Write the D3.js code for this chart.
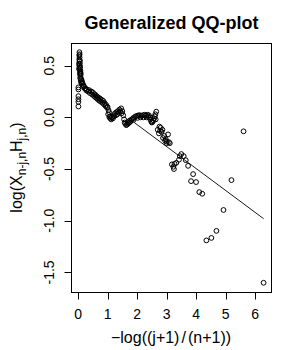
<!DOCTYPE html>
<html>
<head>
<meta charset="utf-8">
<script src="https://cdn.jsdelivr.net/npm/d3@7"></script>
<style>
body { margin: 0; background: #fff; }
svg { display: block; }
</style>
</head>
<body>
<svg id="chart"></svg>
<script>
// values
const qqX = [
  // column near 0
  0.045, 0.04, 0.05, 0.04, 0.05, 0.06, 0.04, 0.06, 0.05, 0.07, 0.06, 0.08, 0.07, 0.09, 0.10, 0.12,
  0.03, 0.03, 0.08, 0.09, 0.11, 0.13, 0.05, 0.06, 0.07, 0.08,
  // lone points at the left
  0.01, 0.01, 0.01, 0.01, 0.01, 0.01,
  // bend 0.15 - 1
  0.15, 0.18, 0.20, 0.25, 0.30, 0.375, 0.45, 0.50, 0.55, 0.60, 0.65, 0.70, 0.75, 0.80, 0.85, 0.90, 0.95,
  0.17, 0.22, 0.28, 0.34, 0.40, 0.48, 0.53, 0.58, 0.63, 0.68, 0.73, 0.78, 0.83, 0.88, 0.93, 0.98,
  // wiggle 1 - 1.6
  1.00, 1.03, 1.05, 1.08, 1.10, 1.15, 1.20, 1.25, 1.30, 1.35, 1.40, 1.46, 1.50, 1.53, 1.56, 1.58,
  1.02, 1.06, 1.12, 1.18, 1.22, 1.28, 1.33, 1.38, 1.43, 1.48,
  // flat part 1.6 - 2.45
  1.60, 1.63, 1.66, 1.70, 1.74, 1.78, 1.82, 1.86, 1.90, 1.95, 2.00, 2.05, 2.10, 2.15, 2.20, 2.25,
  2.30, 2.35, 2.40, 2.44, 1.68, 1.75, 1.88, 2.02, 2.12, 2.22, 2.32, 2.38,
  // rise at 2.5 - 2.65
  2.48, 2.50, 2.52, 2.55, 2.58, 2.60, 2.62, 2.65, 2.63, 2.45,
  // cluster 2.7 - 3.1
  2.76, 2.70, 2.86, 2.74, 3.05, 2.88, 2.95, 3.01, 3.11, 3.00, 2.80, 2.83, 2.92, 2.97, 3.08, 2.78,
  // tail
  3.18, 3.23, 3.25, 3.27, 3.33, 3.42, 3.45, 3.50, 3.58, 3.65, 3.73, 3.90, 3.83, 4.00, 4.11, 4.21,
  4.35, 4.52, 4.69, 4.93, 5.20, 5.61, 6.29
];
const qqY = [
  0.63, 0.60, 0.58, 0.56, 0.54, 0.52, 0.50, 0.48, 0.46, 0.44, 0.42, 0.40, 0.38, 0.36, 0.34, 0.33,
  0.47, 0.52, 0.45, 0.42, 0.37, 0.35, 0.61, 0.55, 0.49, 0.43,
  0.29, 0.27, 0.205, 0.175, 0.15, 0.105,
  0.33, 0.31, 0.30, 0.28, 0.27, 0.263, 0.25, 0.24, 0.225, 0.215, 0.20, 0.19, 0.18, 0.17, 0.16, 0.14, 0.12,
  0.30, 0.28, 0.26, 0.25, 0.235, 0.22, 0.21, 0.195, 0.185, 0.17, 0.16, 0.15, 0.14, 0.125, 0.11, 0.095,
  0.10, 0.07, 0.05, 0.01, -0.01, 0.00, 0.02, 0.04, 0.05, 0.06, 0.075, 0.087, 0.06, 0.02, -0.02, -0.05,
  0.03, 0.00, -0.02, -0.01, 0.01, 0.02, 0.03, 0.045, 0.06, 0.04,
  -0.06, -0.075, -0.07, -0.06, -0.05, -0.04, -0.02, -0.01, 0.00, 0.01, 0.015, 0.02, 0.02, 0.015, 0.02, 0.025,
  0.02, 0.025, 0.02, 0.00, -0.045, -0.03, -0.025, -0.005, 0.00, 0.00, 0.00, 0.005,
  -0.04, -0.05, -0.045, -0.03, -0.01, 0.01, 0.03, 0.055, -0.02, -0.02,
  -0.09, -0.12, -0.12, -0.155, -0.165, -0.20, -0.225, -0.235, -0.25, -0.25, -0.10, -0.14, -0.18, -0.21, -0.24, -0.13,
  -0.455, -0.478, -0.50, -0.45, -0.44, -0.41, -0.375, -0.355, -0.375, -0.414, -0.469, -0.549, -0.617, -0.626, -0.723, -0.739,
  -1.19, -1.166, -1.098, -0.896, -0.607, -0.135, -1.60
];
const lineX = [1.9, 6.29];
const lineY = [-0.049, -0.98];
const xTicks = [0, 1, 2, 3, 4, 5, 6];
const yTicks = [0.5, 0.0, -0.5, -1.0, -1.5];
const yTickLabels = ["0.5", "0.0", "-0.5", "-1.0", "-1.5"];

const width = 300, height = 350;
const plotL = 71, plotR = 271, plotT = 43, plotB = 292;
const font = "'Liberation Sans', Arial, Helvetica, sans-serif";

const svg = d3.select("#chart").attr("width", width).attr("height", height);

// R style: data range padded by 4%
function padded(ext) {
  const d = (ext[1] - ext[0]) * 0.04;
  return [ext[0] - d, ext[1] + d];
}
const x = d3.scaleLinear().domain(padded(d3.extent(qqX))).range([plotL, plotR]);
const y = d3.scaleLinear().domain(padded(d3.extent(qqY))).range([plotB, plotT]);

// points
const pts = qqX.map((v, i) => [v, qqY[i]]);
svg.append("g").selectAll("circle").data(pts).join("circle")
  .attr("cx", d => x(d[0]))
  .attr("cy", d => y(d[1]))
  .attr("r", 2.4)
  .attr("fill", "none")
  .attr("stroke", "#000")
  .attr("stroke-width", 1);

// fitted line
svg.append("line")
  .attr("x1", x(lineX[0])).attr("y1", y(lineY[0]))
  .attr("x2", x(lineX[1])).attr("y2", y(lineY[1]))
  .attr("stroke", "#000").attr("stroke-width", 0.9);

// box
svg.append("rect")
  .attr("x", plotL + 0.5).attr("y", plotT + 0.5)
  .attr("width", plotR - plotL).attr("height", plotB - plotT)
  .attr("fill", "none").attr("stroke", "#000").attr("stroke-width", 1);

// x axis
const xa = svg.append("g").attr("transform", "translate(0," + (plotB + 0.5) + ")");
xa.append("line")
  .attr("x1", x(xTicks[0])).attr("x2", x(xTicks[xTicks.length - 1]))
  .attr("stroke", "#000");
xa.selectAll(".tk").data(xTicks).join("line")
  .attr("x1", d => Math.round(x(d)) + 0.5).attr("x2", d => Math.round(x(d)) + 0.5)
  .attr("y1", 0).attr("y2", 7)
  .attr("stroke", "#000");
xa.selectAll("text").data(xTicks).join("text")
  .attr("x", d => x(d)).attr("y", 26)
  .attr("text-anchor", "middle")
  .attr("font-family", font).attr("font-size", 14)
  .text(d => d);

// y axis
const ya = svg.append("g").attr("transform", "translate(" + (plotL + 0.5) + ",0)");
ya.append("line")
  .attr("y1", y(yTicks[0])).attr("y2", y(yTicks[yTicks.length - 1]))
  .attr("stroke", "#000");
ya.selectAll(".tk").data(yTicks).join("line")
  .attr("y1", d => Math.round(y(d)) + 0.5).attr("y2", d => Math.round(y(d)) + 0.5)
  .attr("x1", 0).attr("x2", -7)
  .attr("stroke", "#000");
ya.selectAll("text").data(yTicks).join("text")
  .attr("transform", d => "translate(-18," + y(d) + ") rotate(-90)")
  .attr("text-anchor", "middle")
  .attr("font-family", font).attr("font-size", 14)
  .text((d, i) => yTickLabels[i]);

// title
svg.append("text")
  .attr("x", (plotL + plotR) / 2 + 0.5).attr("y", 29)
  .attr("text-anchor", "middle")
  .attr("font-family", font).attr("font-size", 18).attr("font-weight", "bold")
  .text("Generalized QQ-plot");

// x label
const xl = svg.append("text")
  .attr("x", (plotL + plotR) / 2).attr("y", 343)
  .attr("text-anchor", "middle")
  .attr("font-family", font).attr("font-size", 16);
xl.append("tspan").text("\u2212log((j+1)");
xl.append("tspan").attr("dx", 2).text("/");
xl.append("tspan").attr("dx", 2).text("(n+1))");

// y label with subscripts
const yl = svg.append("text")
  .attr("transform", "translate(22," + (plotT + plotB) / 2 + ") rotate(-90)")
  .attr("text-anchor", "middle")
  .attr("font-family", font).attr("font-size", 16);
yl.append("tspan").text("log(X");
yl.append("tspan").attr("font-size", 12).attr("dy", 4).text("n-j,n");
yl.append("tspan").attr("dy", -4).text("H");
yl.append("tspan").attr("font-size", 12).attr("dy", 4).text("j,n");
yl.append("tspan").attr("dy", -4).text(")");
</script>
</body>
</html>
